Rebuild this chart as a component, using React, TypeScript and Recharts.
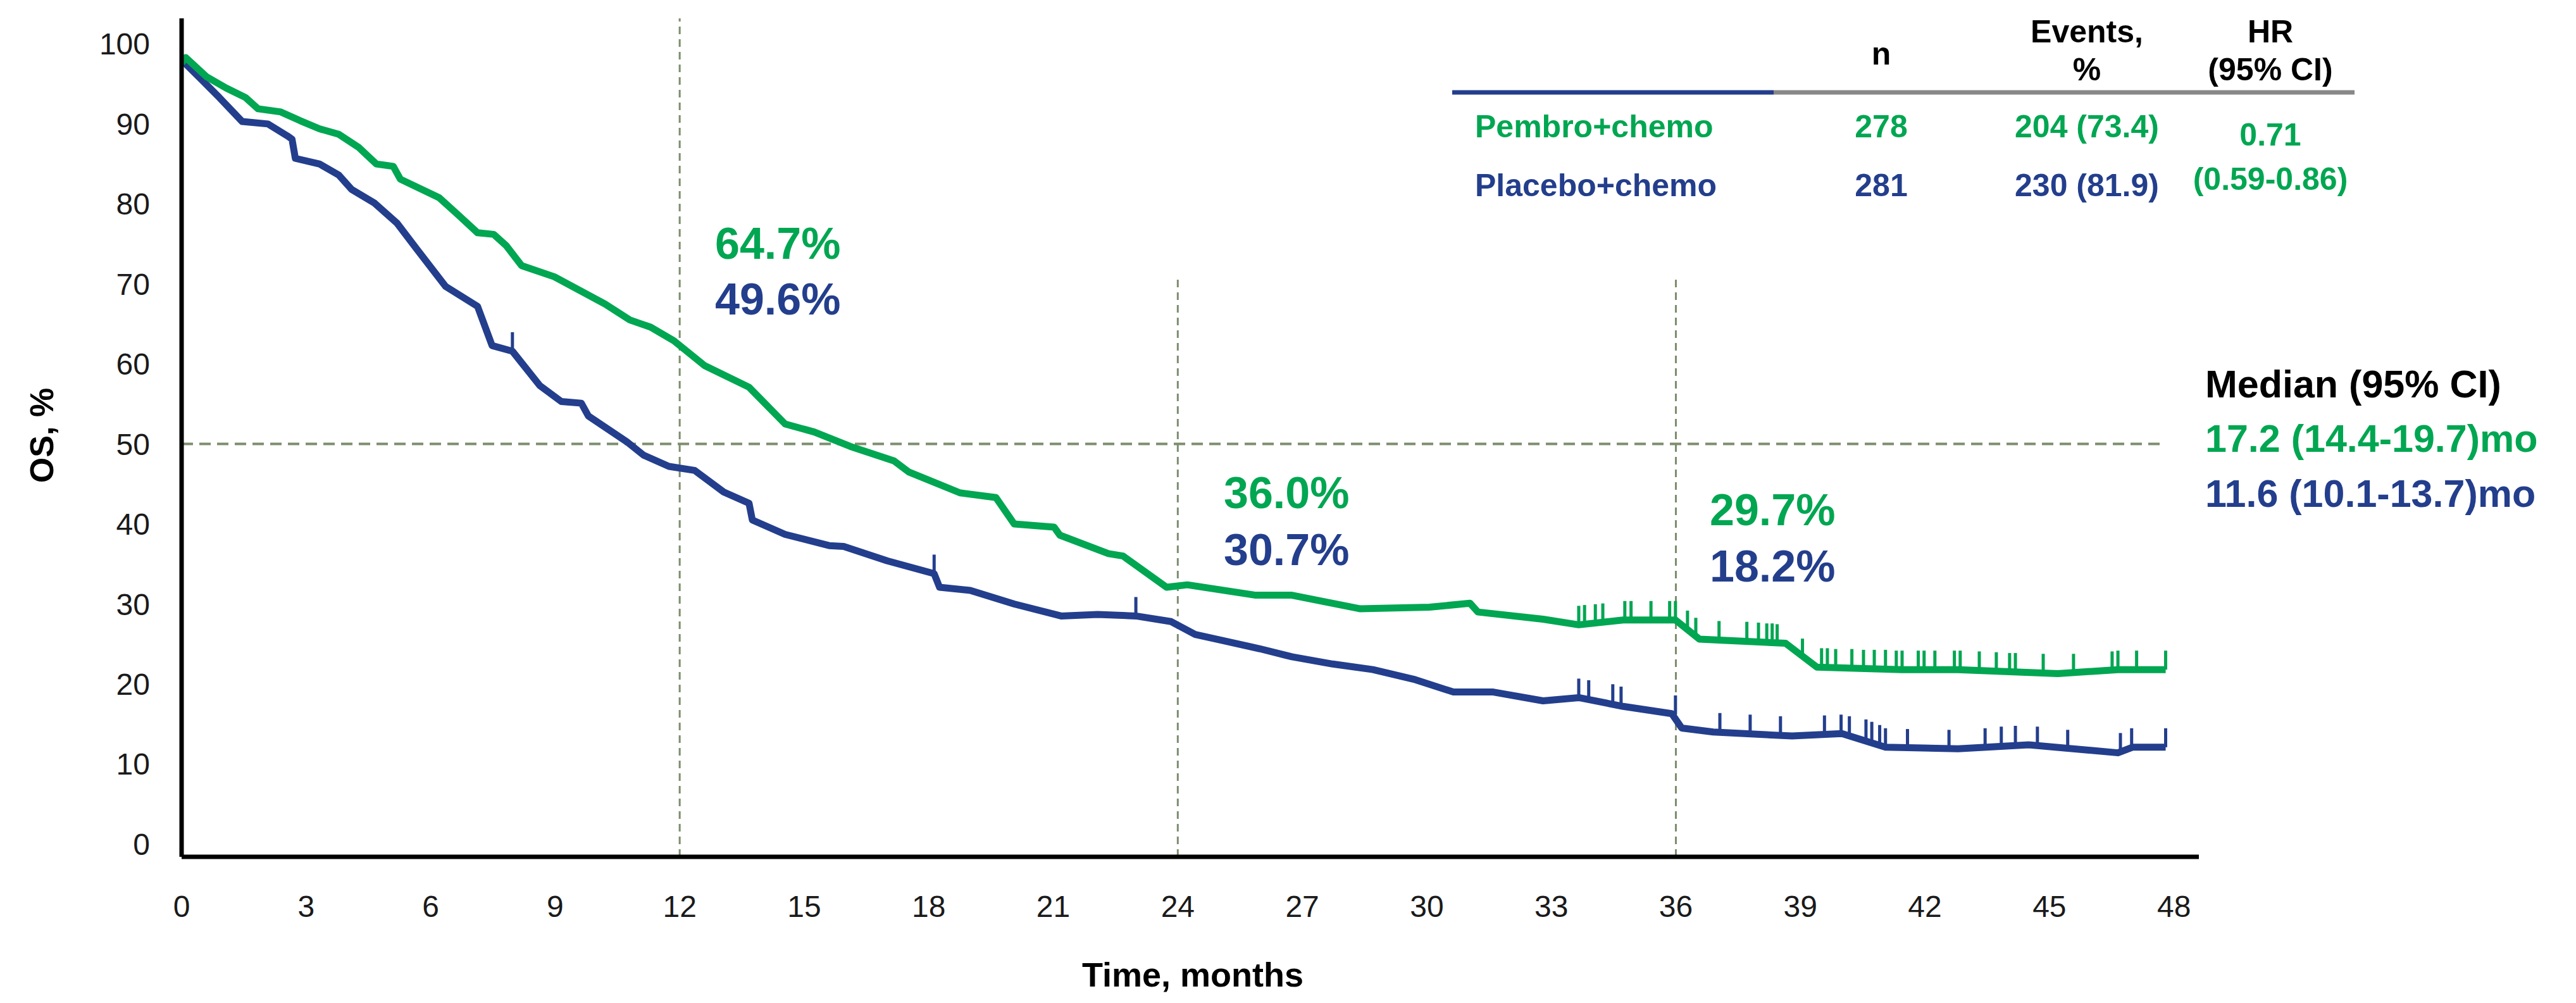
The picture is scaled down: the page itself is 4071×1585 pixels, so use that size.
import React from 'react';
import { ComposedChart, Line, Scatter, XAxis, YAxis, ReferenceLine } from 'recharts';

// ---------- data ----------
const monthTicks = [0, 3, 6, 9, 12, 15, 18, 21, 24, 27, 30, 33, 36, 39, 42, 45, 48];
const osTicks = [0, 10, 20, 30, 40, 50, 60, 70, 80, 90, 100];

// Pembro+chemo KM curve [month, OS %]
const pembroPoints: [number, number][] = [
  [0, 97.6], [0.1, 98.3], [0.6, 95.9], [1.07, 94.5], [1.54, 93.3], [1.84, 91.9], [2.39, 91.5],
  [2.86, 90.4], [3.32, 89.4], [3.79, 88.7], [4.26, 87.1], [4.69, 85.0], [5.1, 84.7], [5.27, 83.1],
  [6.2, 80.8], [6.67, 78.6], [7.13, 76.4], [7.52, 76.2], [7.82, 74.8], [8.19, 72.3], [8.98, 70.9],
  [10.2, 67.5], [10.8, 65.5], [11.3, 64.6], [11.86, 62.9], [12.6, 59.8], [13.67, 57.1], [14.54, 52.5],
  [15.24, 51.5], [16.11, 49.7], [17.16, 47.9], [17.52, 46.5], [18.75, 43.9], [19.62, 43.3], [20.06, 40.0],
  [21.02, 39.6], [21.16, 38.6], [22.33, 36.3], [22.68, 36.0], [23.73, 32.1], [24.23, 32.4], [25.88, 31.1],
  [26.75, 31.1], [28.4, 29.4], [30.06, 29.6], [31.04, 30.1], [31.23, 29.0], [32.8, 28.1], [33.66, 27.4],
  [34.73, 28.0], [35.99, 28.0], [36.57, 25.6], [38.64, 25.1], [39.4, 22.1], [41.45, 21.8], [42.8, 21.8],
  [45.2, 21.3], [46.65, 21.8], [47.8, 21.8],
];

// Placebo+chemo KM curve [month, OS %]
const placeboPoints: [number, number][] = [
  [0, 97.8], [0.1, 97.5], [0.45, 95.7], [0.91, 93.3], [1.46, 90.3], [2.08, 90.0], [2.55, 88.5], [2.66, 88.1],
  [2.74, 85.7], [3.32, 85.0], [3.79, 83.6], [4.1, 81.8], [4.65, 80.1], [5.19, 77.6], [5.66, 74.4],
  [6.36, 69.7], [7.13, 67.2], [7.48, 62.3], [7.97, 61.6], [8.63, 57.3], [9.15, 55.3], [9.63, 55.1],
  [9.8, 53.5], [10.72, 50.3], [11.13, 48.6], [11.74, 47.2], [12.36, 46.7], [13.06, 44.0], [13.67, 42.6],
  [13.75, 40.5], [14.54, 38.7], [15.6, 37.3], [15.95, 37.2], [17.0, 35.4], [18.13, 33.8], [18.26, 32.1],
  [19.0, 31.7], [20.06, 30.0], [21.19, 28.5], [22.07, 28.7], [22.99, 28.5], [23.84, 27.8], [24.42, 26.2],
  [25.98, 24.4], [26.75, 23.4], [27.73, 22.5], [28.7, 21.8], [29.68, 20.6], [30.64, 19.0], [31.6, 19.0],
  [32.8, 17.9], [33.66, 18.3], [34.73, 17.2], [35.9, 16.3], [36.14, 14.5], [36.9, 14.0], [38.8, 13.5],
  [40.0, 13.8], [41.05, 12.1], [42.8, 11.9], [44.5, 12.4], [46.65, 11.4], [47.0, 12.1], [47.8, 12.1],
];

// Censoring marks [month, OS %]
const pembroCensor: [number, number][] = [
  [33.66, 27.4], [33.8, 27.5], [34.06, 27.6], [34.24, 27.7], [34.77, 28.0], [34.92, 28.0], [35.4, 28.0],
  [35.85, 28.0], [35.99, 28.0], [36.28, 26.8], [36.48, 25.9], [37.04, 25.5], [37.71, 25.4], [37.99, 25.3],
  [38.19, 25.2], [38.32, 25.2], [38.44, 25.1], [39.05, 23.3], [39.51, 22.1], [39.65, 22.1], [39.85, 22.0],
  [40.24, 22.0], [40.52, 21.9], [40.78, 21.9], [41.05, 21.9], [41.31, 21.8], [41.45, 21.8], [41.84, 21.8],
  [41.98, 21.8], [42.24, 21.8], [42.71, 21.8], [42.85, 21.8], [43.31, 21.7], [43.72, 21.6], [44.04, 21.5],
  [44.18, 21.5], [44.85, 21.4], [45.58, 21.4], [46.51, 21.7], [46.65, 21.8], [47.1, 21.8], [47.8, 21.8],
];
const placeboCensor: [number, number][] = [
  [7.97, 61.6], [18.13, 33.8], [22.99, 28.5], [33.66, 18.3], [33.9, 18.1], [34.48, 17.6], [34.68, 17.3],
  [35.99, 16.2], [37.06, 14.0], [37.79, 13.8], [38.52, 13.6], [39.58, 13.7], [39.98, 13.8], [40.18, 13.6],
  [40.58, 13.2], [40.72, 12.9], [40.91, 12.5], [41.05, 12.1], [41.58, 12.0], [42.58, 11.9], [43.45, 12.1],
  [43.84, 12.3], [44.18, 12.4], [44.71, 12.3], [45.44, 11.9], [46.71, 11.5], [46.98, 12.1], [47.8, 12.1],
];

const landmarkMonths = [12, 24, 36];
const landmarkPembro = ['64.7%', '36.0%', '29.7%'];
const landmarkPlacebo = ['49.6%', '30.7%', '18.2%'];

const tableHeaders = ['n', 'Events,|%', 'HR|(95% CI)'];
const armNames = ['Pembro+chemo', 'Placebo+chemo'];
const armN = ['278', '281'];
const armEvents = ['204 (73.4)', '230 (81.9)'];
const hrText = ['0.71', '(0.59-0.86)'];
const medianTitle = 'Median (95% CI)';
const medianTexts = ['17.2 (14.4-19.7)mo', '11.6 (10.1-13.7)mo'];

// ---------- styling ----------
const GREEN = '#00A651';
const BLUE = '#233E8C';
const DASH = '#7d8e6e';
const FONT = "'Liberation Sans', Arial, Helvetica, sans-serif";

const toObj = (arr: [number, number][]) => arr.map(([m, v]) => ({ m, v }));

const W = 4055;
const H = 1569;

const censorShape = (color: string) => (props: any) => {
  const { cx, cy } = props;
  if (cx == null || cy == null) return <g />;
  return <line x1={cx} x2={cx} y1={cy} y2={cy - 30} stroke={color} strokeWidth={5} />;
};

export default function App() {
  const landmarkPos = [
    { x: 1122, y1: 377, y2: 465 },
    { x: 1926, y1: 771, y2: 861 },
    { x: 2694, y1: 798, y2: 887 },
  ];
  return (
    <div style={{ position: 'relative', width: W, height: H, background: '#fff', fontFamily: FONT }}>
      <ComposedChart width={W} height={H} margin={{ top: 21, right: 588, bottom: 0, left: 0 }}>
        <XAxis
          dataKey="m"
          type="number"
          domain={[0, 48.6]}
          ticks={monthTicks}
          allowDataOverflow
          height={223}
          tickSize={0}
          tickMargin={61}
          axisLine={{ stroke: '#000', strokeWidth: 7 }}
          tickLine={false}
          tick={{ fontSize: 48, fill: '#1a1a1a', fontFamily: FONT }}
        />
        <YAxis
          type="number"
          domain={[-1.6, 103.2]}
          ticks={osTicks}
          allowDataOverflow
          width={279}
          tickSize={0}
          tickMargin={50}
          axisLine={{ stroke: '#000', strokeWidth: 7 }}
          tickLine={false}
          tick={{ fontSize: 48, fill: '#1a1a1a', fontFamily: FONT }}
        />
        <ReferenceLine segment={[{ x: 0, y: 50 }, { x: 47.8, y: 50 }]} stroke={DASH} strokeWidth={4} strokeDasharray="18 10" />
        {landmarkMonths.map((mo, i) => (
          <ReferenceLine
            key={mo}
            segment={[{ x: mo, y: -1.6 }, { x: mo, y: i === 0 ? 103.2 : 70.7 }]}
            stroke={DASH}
            strokeWidth={3}
            strokeDasharray="12 8"
          />
        ))}
        <Line data={toObj(placeboPoints)} dataKey="v" type="linear" stroke={BLUE} strokeWidth={11} dot={false} isAnimationActive={false} strokeLinejoin="round" />
        <Line data={toObj(pembroPoints)} dataKey="v" type="linear" stroke={GREEN} strokeWidth={11} dot={false} isAnimationActive={false} strokeLinejoin="round" />
        <Scatter data={toObj(placeboCensor)} dataKey="v" shape={censorShape(BLUE)} isAnimationActive={false} />
        <Scatter data={toObj(pembroCensor)} dataKey="v" shape={censorShape(GREEN)} isAnimationActive={false} />
      </ComposedChart>
      <svg width={W} height={H} style={{ position: 'absolute', left: 0, top: 0, pointerEvents: 'none' }} fontFamily={FONT}>
        {/* axis titles */}
        <text x={58} y={680} transform="rotate(-90 58 680)" textAnchor="middle" dominantBaseline="central" fontSize={52} fontWeight="bold" fill="#000">OS, %</text>
        <text x={1877} y={1532} textAnchor="middle" dominantBaseline="central" fontSize={54} fontWeight="bold" fill="#000">Time, months</text>

        {/* landmark annotations */}
        {landmarkPos.map((p, i) => (
          <g key={i} fontSize={70} fontWeight="bold">
            <text x={p.x} y={p.y1} dominantBaseline="central" fill={GREEN}>{landmarkPembro[i]}</text>
            <text x={p.x} y={p.y2} dominantBaseline="central" fill={BLUE}>{landmarkPlacebo[i]}</text>
          </g>
        ))}

        {/* table */}
        <g fontSize={50} fontWeight="bold" textAnchor="middle">
          {[2965, 3290, 3580].map((cx, i) => {
            const parts = tableHeaders[i].split('|');
            return parts.length === 1 ? (
              <text key={i} x={cx} y={77} dominantBaseline="central" fill="#000">{parts[0]}</text>
            ) : (
              <g key={i}>
                <text x={cx} y={42} dominantBaseline="central" fill="#000">{parts[0]}</text>
                <text x={cx} y={102} dominantBaseline="central" fill="#000">{parts[1]}</text>
              </g>
            );
          })}
          <line x1={2287} x2={2795} y1={138} y2={138} stroke={BLUE} strokeWidth={7} />
          <line x1={2795} x2={3713} y1={138} y2={138} stroke="#888" strokeWidth={7} />
          {armNames.map((name, i) => {
            const y = i === 0 ? 192 : 285;
            const c = i === 0 ? GREEN : BLUE;
            return (
              <g key={name} fill={c}>
                <text x={2323} y={y} textAnchor="start" dominantBaseline="central">{name}</text>
                <text x={2965} y={y} dominantBaseline="central">{armN[i]}</text>
                <text x={3290} y={y} dominantBaseline="central">{armEvents[i]}</text>
              </g>
            );
          })}
          <text x={3580} y={205} dominantBaseline="central" fill={GREEN}>{hrText[0]}</text>
          <text x={3580} y={275} dominantBaseline="central" fill={GREEN}>{hrText[1]}</text>
        </g>

        {/* median */}
        <g fontSize={61} fontWeight="bold">
          <text x={3477} y={599} dominantBaseline="central" fill="#000">{medianTitle}</text>
          <text x={3477} y={685} dominantBaseline="central" fill={GREEN}>{medianTexts[0]}</text>
          <text x={3477} y={772} dominantBaseline="central" fill={BLUE}>{medianTexts[1]}</text>
        </g>
      </svg>
    </div>
  );
}
